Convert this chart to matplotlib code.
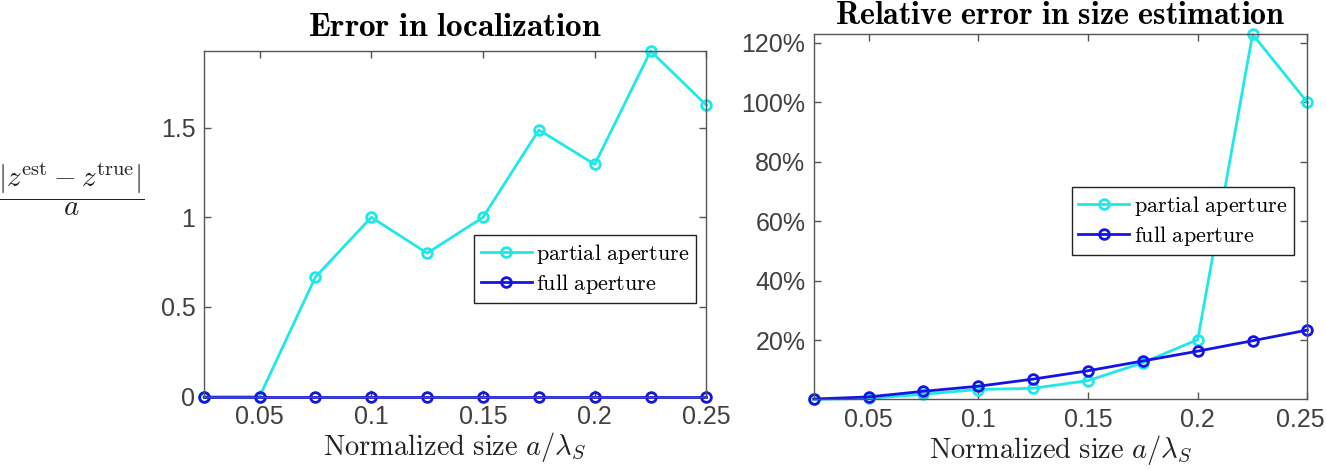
import numpy as np
import matplotlib.pyplot as plt
import matplotlib.transforms as mtransforms
from matplotlib.ticker import PercentFormatter

plt.rcParams['mathtext.fontset'] = 'cm'
plt.rcParams['font.family'] = 'Liberation Sans'

# normalized size a/lambda_S
size = [0.025, 0.05, 0.075, 0.1, 0.125, 0.15, 0.175, 0.2, 0.225, 0.25]

# error in localization |z_est - z_true| / a
loc_partial = [0, 0, 0.667, 1.0, 0.8, 1.0, 1.487, 1.295, 1.927, 1.624]
loc_full = [0, 0, 0, 0, 0, 0, 0, 0, 0, 0]

# relative error in size estimation (%)
rel_partial = [0.1, 0.4, 1.8, 3.4, 3.8, 6.4, 12.4, 20.2, 122.9, 100.0]
rel_full = [0.2, 0.9, 2.8, 4.5, 6.9, 9.7, 13.0, 16.3, 19.8, 23.4]

labels = [r'$\mathrm{partial\ aperture}$', r'$\mathrm{full\ aperture}$']
xticks = [0.05, 0.1, 0.15, 0.2, 0.25]
xticklabels = ['0.05', '0.1', '0.15', '0.2', '0.25']

cyan = '#1ee8e8'
blue = '#1414e6'
edge = '#555555'
tickc = '#404040'

fig = plt.figure(figsize=(13.26, 4.70), dpi=100)
ax1 = fig.add_axes([0.1536, 0.156, 0.3792, 0.7355])
ax2 = fig.add_axes([0.6137, 0.1504, 0.3723, 0.7766])

style = dict(lw=2, marker='o', ms=7, mfc='none', mew=2, clip_on=False)

ax1.plot(size, loc_partial, color=cyan, label=labels[0], **style)
ax1.plot(size, loc_full, color=blue, label=labels[1], **style)
ax2.plot(size, rel_partial, color=cyan, label=labels[0], **style)
ax2.plot(size, rel_full, color=blue, label=labels[1], **style)

ax1.set_xlim(size[0], size[-1])
ax1.set_ylim(0, max(loc_partial))
ax1.set_yticks([0, 0.5, 1, 1.5])
ax1.set_yticklabels(['0', '0.5', '1', '1.5'])

ax2.set_xlim(size[0], size[-1])
ax2.set_ylim(min(rel_partial), max(rel_partial))
ax2.set_yticks([20, 40, 60, 80, 100, 120])
ax2.yaxis.set_major_formatter(PercentFormatter(decimals=0))

for ax in (ax1, ax2):
    ax.set_xticks(xticks)
    ax.set_xticklabels(xticklabels)
    ax.tick_params(direction='in', length=5, width=1, colors=edge,
                   labelcolor=tickc, labelsize=18, top=True, right=True, pad=6)
    for s in ax.spines.values():
        s.set_color(edge)
        s.set_linewidth(1)
    ax.set_xlabel(r'$\mathrm{Normalized\ size}\ a/\lambda_S$', fontsize=20.5,
                  color='#222222', labelpad=1)
    leg = ax.legend(fontsize=16, loc='upper right', fancybox=False,
                    handlelength=2.3, handletextpad=0.2, borderaxespad=0,
                    borderpad=0.3, labelspacing=0.3, framealpha=1)
    leg.get_frame().set_edgecolor('#222222')
    leg.get_frame().set_linewidth(1)

ax1.legend_.set_bbox_to_anchor((0.980, 0.468))
ax2.legend_.set_bbox_to_anchor((0.973, 0.582))

# keep the last tick label of the right panel inside the figure
last = ax2.get_xticklabels()[-1]
last.set_transform(last.get_transform() +
                   mtransforms.ScaledTranslation(-0.07, 0, fig.dpi_scale_trans))

ax1.set_title(r'$\mathbf{Error\ in\ localization}$', fontsize=24, pad=11)
ax2.set_title(r'$\mathbf{Relative\ error\ in\ size\ estimation}$', fontsize=23, pad=7.5)

ax1.set_ylabel(r'$\dfrac{|z^{\mathrm{est}}-z^{\mathrm{true}}|}{a}$', fontsize=21,
               rotation=0, color='#222222', ha='center', va='center')
ax1.yaxis.set_label_coords(-0.262, 0.60)

fig.savefig('out.png', dpi=100)
